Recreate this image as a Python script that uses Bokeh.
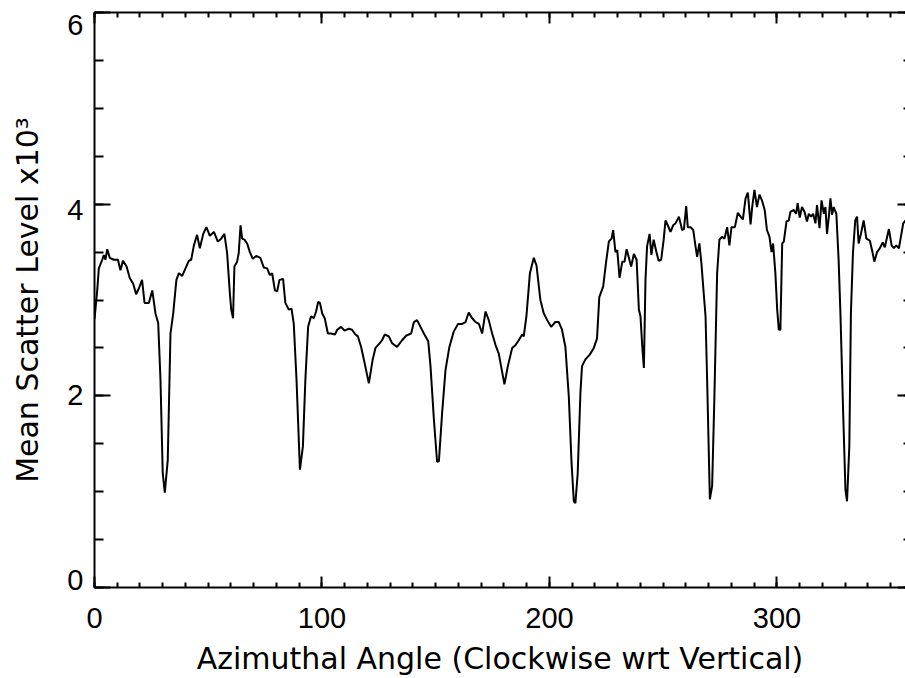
from bokeh.plotting import figure
from bokeh.models import LinearAxis, FixedTicker, Range1d
from bokeh.embed import file_html
from bokeh.resources import INLINE

# ---- data ----
angle = [0.0, 1.2, 1.9, 3.4, 4.1, 4.8, 5.6, 6.7, 8.5, 10.3, 11.4, 12.5, 14.1, 15.5, 17.0, 18.3,
         19.5, 20.9, 22.0, 23.9, 25.4, 26.8, 28.0, 29.0, 30.0, 30.9, 32.2, 33.4, 34.6, 36.0,
         37.1, 38.5, 40.0, 41.5, 42.5, 43.7, 45.1, 46.3, 47.8, 49.2, 50.7, 52.5, 54.2, 55.7,
         57.1, 58.3, 59.5, 60.1, 60.9, 61.5, 62.7, 63.4, 64.2, 64.9, 65.9, 67.1, 68.3, 69.6,
         71.1, 72.9, 74.4, 75.9, 77.1, 78.1, 79.3, 80.3, 81.3, 82.9, 83.9, 85.4, 86.6, 87.6,
         88.8, 90.3, 91.6, 92.7, 93.9, 95.2, 96.4, 97.4, 98.3, 99.1, 100.1, 101.2, 102.6,
         104.0, 105.7, 106.7, 108.4, 109.9, 111.8, 113.2, 114.7, 115.8, 117.2, 118.4, 120.6,
         122.3, 123.5, 125.4, 126.4, 127.6, 129.4, 130.8, 133.0, 135.2, 137.1, 139.2, 140.4,
         141.8, 143.3, 144.8, 146.7, 147.7, 149.2, 150.6, 151.4, 152.8, 154.3, 156.0, 157.9,
         159.8, 161.6, 163.1, 164.5, 165.7, 167.5, 169.0, 170.4, 171.9, 173.3, 174.8, 176.3,
         177.7, 180.2, 181.7, 183.6, 185.1, 186.5, 188.0, 188.7, 189.9, 191.4, 193.1, 194.3,
         196.0, 197.5, 199.0, 200.7, 202.6, 204.1, 205.5, 207.0, 208.5, 209.7, 210.7, 211.4,
         212.4, 213.6, 214.3, 215.8, 217.7, 219.5, 220.9, 221.9, 223.6, 224.8, 226.1, 227.3,
         228.0, 229.0, 229.8, 230.8, 232.0, 233.0, 233.9, 234.9, 235.9, 237.1, 238.3, 239.3,
         240.0, 240.8, 241.5, 242.2, 242.9, 244.0, 244.8, 245.8, 247.0, 248.0, 249.1, 250.2,
         251.0, 252.0, 253.2, 254.4, 255.4, 256.9, 258.3, 259.1, 260.1, 260.8, 262.0, 263.2,
         264.2, 264.9, 265.9, 266.8, 267.8, 268.6, 269.3, 270.5, 271.5, 272.5, 273.3, 273.7,
         274.7, 275.9, 276.9, 278.1, 279.1, 280.0, 281.5, 282.8, 284.0, 285.0, 286.2, 287.2,
         288.4, 289.1, 290.1, 291.2, 292.3, 293.4, 294.6, 295.6, 296.7, 297.6, 298.3, 299.3,
         300.1, 300.8, 301.5, 302.3, 303.0, 304.2, 305.2, 305.9, 307.4, 308.4, 309.1, 310.0,
         311.0, 312.1, 313.2, 314.0, 315.0, 315.9, 316.9, 317.6, 318.7, 319.6, 320.6, 321.3,
         322.0, 322.8, 323.5, 324.2, 324.9, 326.1, 327.1, 327.9, 329.1, 330.1, 330.8, 331.8,
         332.5, 333.4, 334.4, 335.2, 335.9, 336.9, 338.1, 339.3, 340.8, 341.8, 342.8, 344.0,
         345.2, 346.5, 347.4, 349.2, 350.4, 351.4, 352.4, 353.6, 354.7, 355.5, 356.5]

scatter_level = [2.80, 3.10, 3.33, 3.42, 3.47, 3.42, 3.53, 3.44, 3.42, 3.42, 3.31, 3.41, 3.35,
                 3.23, 3.17, 3.06, 3.12, 3.21, 2.97, 2.97, 3.10, 2.86, 2.76, 2.17, 1.19, 0.99,
                 1.33, 2.65, 2.86, 3.21, 3.28, 3.25, 3.33, 3.41, 3.42, 3.57, 3.68, 3.54, 3.69,
                 3.76, 3.67, 3.71, 3.61, 3.64, 3.69, 3.49, 3.07, 2.90, 2.81, 3.35, 3.40, 3.49,
                 3.78, 3.64, 3.63, 3.59, 3.50, 3.43, 3.46, 3.44, 3.34, 3.33, 3.26, 3.28, 3.10,
                 3.09, 3.21, 3.22, 2.97, 2.90, 2.91, 2.75, 2.17, 1.23, 1.47, 2.17, 2.72, 2.83,
                 2.81, 2.88, 2.98, 2.97, 2.86, 2.81, 2.65, 2.65, 2.64, 2.69, 2.72, 2.68, 2.70,
                 2.69, 2.64, 2.62, 2.51, 2.38, 2.13, 2.38, 2.50, 2.55, 2.58, 2.64, 2.62, 2.55,
                 2.51, 2.58, 2.63, 2.65, 2.77, 2.79, 2.72, 2.65, 2.57, 2.31, 1.75, 1.31, 1.32,
                 1.82, 2.27, 2.51, 2.67, 2.75, 2.75, 2.77, 2.87, 2.82, 2.77, 2.75, 2.65, 2.88,
                 2.79, 2.65, 2.53, 2.44, 2.12, 2.31, 2.50, 2.53, 2.58, 2.64, 2.62, 2.84, 3.28,
                 3.44, 3.36, 3.00, 2.86, 2.79, 2.72, 2.77, 2.77, 2.69, 2.51, 1.99, 1.30, 0.90,
                 0.88, 1.19, 2.03, 2.31, 2.38, 2.43, 2.50, 2.60, 3.03, 3.14, 3.38, 3.61, 3.64,
                 3.73, 3.50, 3.52, 3.23, 3.40, 3.40, 3.53, 3.44, 3.35, 3.48, 3.42, 2.90, 2.83,
                 2.51, 2.29, 3.21, 3.56, 3.69, 3.47, 3.63, 3.50, 3.41, 3.42, 3.63, 3.83, 3.78,
                 3.71, 3.78, 3.80, 3.87, 3.73, 3.74, 3.98, 3.76, 3.76, 3.73, 3.56, 3.45, 3.59,
                 3.38, 3.07, 2.83, 2.17, 0.92, 1.06, 1.99, 2.86, 3.28, 3.63, 3.66, 3.64, 3.76,
                 3.57, 3.76, 3.76, 3.91, 3.87, 3.84, 4.06, 4.12, 3.79, 3.97, 4.15, 3.97, 4.10,
                 4.04, 3.94, 3.73, 3.66, 3.50, 3.59, 3.28, 2.90, 2.69, 2.69, 3.59, 3.61, 3.82,
                 3.83, 3.92, 3.94, 3.90, 4.01, 3.86, 3.97, 3.92, 3.82, 3.90, 3.87, 3.90, 3.80,
                 3.99, 3.75, 4.04, 3.90, 3.97, 3.69, 3.87, 4.06, 3.89, 3.97, 3.90, 3.42, 2.86,
                 1.82, 1.02, 0.90, 1.47, 2.86, 3.49, 3.83, 3.87, 3.59, 3.69, 3.83, 3.64, 3.62,
                 3.52, 3.40, 3.50, 3.54, 3.60, 3.55, 3.74, 3.57, 3.54, 3.57, 3.54, 3.69, 3.80,
                 3.83]

x_ticks = [0, 100, 200, 300]
y_ticks = [0, 2, 4, 6]
x_minor = list(range(0, 361, 10))
y_minor = [i * 0.5 for i in range(13)]

x_title = "Azimuthal Angle (Clockwise wrt Vertical)"
y_title = "Mean Scatter Level x10\u00b3"

TICK_FONT = "Liberation Sans"
TITLE_FONT = "DejaVu Sans"
TICK_SIZE = "29px"

Y0, Y1 = 0, 6
FRAME_H = 576          # px between the bottom and top frame lines
LAB_UP_PX = 8          # "0" label sits this far above the bottom line
LAB_DOWN_PX = 13       # "6" label sits this far below the top line
lab_px_per_unit = (FRAME_H - LAB_UP_PX - LAB_DOWN_PX) / (Y1 - Y0)
label_range = Range1d(Y0 - LAB_UP_PX / lab_px_per_unit, Y1 + LAB_DOWN_PX / lab_px_per_unit)

p = figure(width=905, height=678, x_range=Range1d(0, 356.5), y_range=Range1d(Y0, Y1),
           output_backend="svg", toolbar_location=None,
           min_border_left=94, min_border_right=0, min_border_top=12, min_border_bottom=90)
p.extra_y_ranges = {"labels": label_range}
p.outline_line_color = None
p.xgrid.grid_line_color = None
p.ygrid.grid_line_color = None
p.background_fill_color = "white"
p.border_fill_color = "white"

p.line(angle, scatter_level, line_color="black", line_width=2)


def style(ax, ticks, minor, tin, min_in, labels=True, line=True):
    ax.ticker = FixedTicker(ticks=ticks, minor_ticks=minor)
    ax.major_tick_in = tin
    ax.major_tick_out = 0
    ax.minor_tick_in = min_in
    ax.minor_tick_out = 0
    ax.major_tick_line_width = 2
    ax.minor_tick_line_width = 2
    ax.major_tick_line_color = "black"
    ax.minor_tick_line_color = "black"
    ax.axis_line_width = 2
    ax.axis_line_color = "black" if line else None
    if labels:
        ax.major_label_text_font = TICK_FONT
        ax.major_label_text_font_size = TICK_SIZE
        ax.major_label_text_color = "black"
    else:
        ax.major_label_text_font_size = "1px"
        ax.major_label_text_color = None
        ax.major_label_standoff = 0


xb = p.xaxis[0]
style(xb, x_ticks, x_minor, 11, 5)
xb.major_label_standoff = 20
xb.axis_label = x_title
xb.axis_label_text_font = TITLE_FONT
xb.axis_label_text_font_size = "30px"
xb.axis_label_text_font_style = "normal"
xb.axis_label_text_color = "black"
xb.axis_label_standoff = 10

# left: ticks and frame line on the data range
yl = p.yaxis[0]
style(yl, y_ticks, y_minor, 16, 9, labels=False)

# left: tick labels and title (IDL-style placement keeps 0 and 6 inside the frame)
ylab = LinearAxis(y_range_name="labels")
ylab.ticker = FixedTicker(ticks=y_ticks, minor_ticks=[])
ylab.axis_line_color = None
ylab.major_tick_line_color = None
ylab.minor_tick_line_color = None
ylab.major_tick_in = 0
ylab.major_tick_out = 0
ylab.major_label_text_font = TICK_FONT
ylab.major_label_text_font_size = TICK_SIZE
ylab.major_label_text_color = "black"
ylab.major_label_standoff = 11
ylab.axis_label = y_title
ylab.axis_label_text_font = TITLE_FONT
ylab.axis_label_text_font_size = "30px"
ylab.axis_label_text_font_style = "normal"
ylab.axis_label_text_color = "black"
ylab.axis_label_standoff = 19
p.add_layout(ylab, "left")

xt = LinearAxis()
style(xt, x_ticks, x_minor, 11, 5, labels=False)
p.add_layout(xt, "above")

yr = LinearAxis()
style(yr, y_ticks, y_minor, 8, 2, labels=False, line=False)
p.add_layout(yr, "right")

open("out.html", "w").write(file_html(p, INLINE))
